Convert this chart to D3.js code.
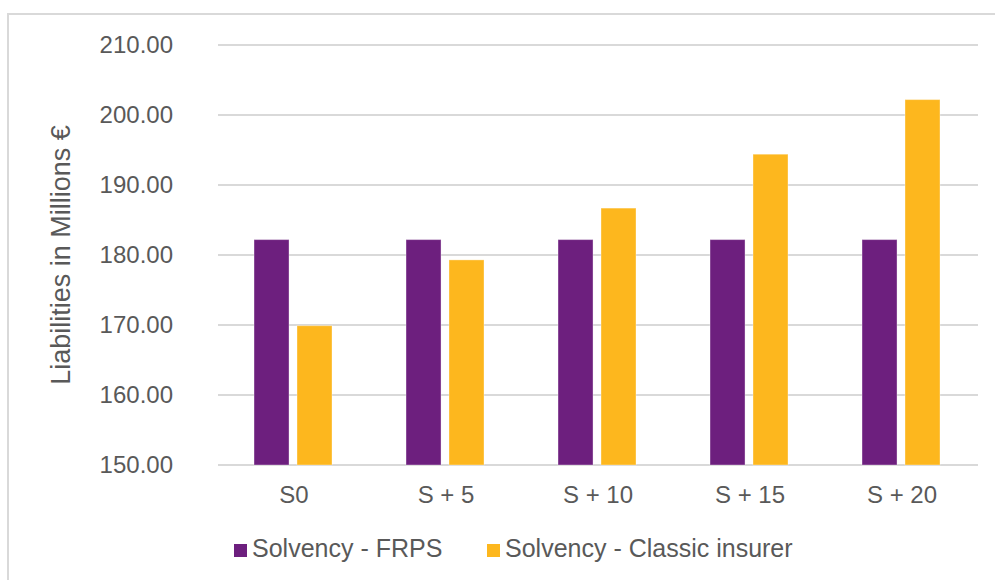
<!DOCTYPE html>
<html>
<head>
<meta charset="utf-8">
<script src="https://cdn.jsdelivr.net/npm/d3@7"></script>
<style>
  html, body { margin: 0; padding: 0; background: #fff; }
  svg { display: block; font-family: "Liberation Sans", Arial, sans-serif; }
</style>
</head>
<body>
<div id="chart"></div>
<script>
const categories = ["S0", "S + 5", "S + 10", "S + 15", "S + 20"];
const seriesNames = ["Solvency - FRPS", "Solvency - Classic insurer"];
const frps = [182.2, 182.2, 182.2, 182.2, 182.2];
const classic = [169.9, 179.3, 186.7, 194.4, 202.2];
const yTicks = [150, 160, 170, 180, 190, 200, 210];
const colors = ["#6d1f7e", "#fdb71e"];

const width = 995, height = 580;
const svg = d3.select("#chart").append("svg")
  .attr("width", width).attr("height", height);

// outer border (only top and left visible in the crop)
svg.append("rect")
  .attr("x", 8).attr("y", 14)
  .attr("width", 1000).attr("height", 600)
  .attr("fill", "none").attr("stroke", "#d9d9d9").attr("stroke-width", 2);

const plot = { left: 218, right: 978, top: 45, bottom: 465 };

const y = d3.scaleLinear().domain([150, 210]).range([plot.bottom, plot.top]);
const x0 = d3.scaleBand().domain(categories).range([plot.left, plot.right]);
const x1 = d3.scaleBand().domain(seriesNames)
  .range([x0.bandwidth() * 0.237, x0.bandwidth() * 0.75])
  .paddingInner(0.186);

// gridlines
svg.append("g").selectAll("line")
  .data(yTicks)
  .join("line")
  .attr("x1", plot.left).attr("x2", plot.right)
  .attr("y1", d => y(d)).attr("y2", d => y(d))
  .attr("stroke", "#d9d9d9").attr("stroke-width", 2);

// y tick labels
svg.append("g").selectAll("text")
  .data(yTicks)
  .join("text")
  .attr("x", 173).attr("y", d => y(d))
  .attr("dy", "0.35em")
  .attr("text-anchor", "end")
  .attr("fill", "#595959")
  .attr("font-size", 24)
  .text(d => d3.format(".2f")(d));

// y title
svg.append("text")
  .attr("transform", `translate(70,${(plot.top + plot.bottom) / 2}) rotate(-90)`)
  .attr("text-anchor", "middle")
  .attr("fill", "#595959")
  .attr("font-size", 27)
  .text("Liabilities in Millions €");

// bars
const rows = categories.map((c, i) => ({ cat: c, values: [frps[i], classic[i]] }));
const groups = svg.append("g").selectAll("g")
  .data(rows)
  .join("g")
  .attr("transform", d => `translate(${x0(d.cat)},0)`);

groups.selectAll("rect")
  .data(d => d.values.map((v, j) => ({ name: seriesNames[j], v, j })))
  .join("rect")
  .attr("x", d => x1(d.name))
  .attr("width", x1.bandwidth())
  .attr("y", d => y(d.v))
  .attr("height", d => y(150) - y(d.v))
  .attr("fill", d => colors[d.j])
  .attr("stroke", "#fff").attr("stroke-opacity", 0.35).attr("stroke-width", 1);

// category labels
svg.append("g").selectAll("text")
  .data(categories)
  .join("text")
  .attr("x", d => x0(d) + x0.bandwidth() / 2)
  .attr("y", 503)
  .attr("text-anchor", "middle")
  .attr("fill", "#595959")
  .attr("font-size", 24)
  .text(d => d);

// legend
const legendX = [234, 487];
const legend = svg.append("g").selectAll("g")
  .data(seriesNames)
  .join("g")
  .attr("transform", (d, i) => `translate(${legendX[i]},0)`);
legend.append("rect")
  .attr("x", 0).attr("y", 544)
  .attr("width", 13).attr("height", 13)
  .attr("fill", (d, i) => colors[i]);
legend.append("text")
  .attr("x", 18).attr("y", 557)
  .attr("fill", "#595959")
  .attr("font-size", 25)
  .text(d => d);
</script>
</body>
</html>
